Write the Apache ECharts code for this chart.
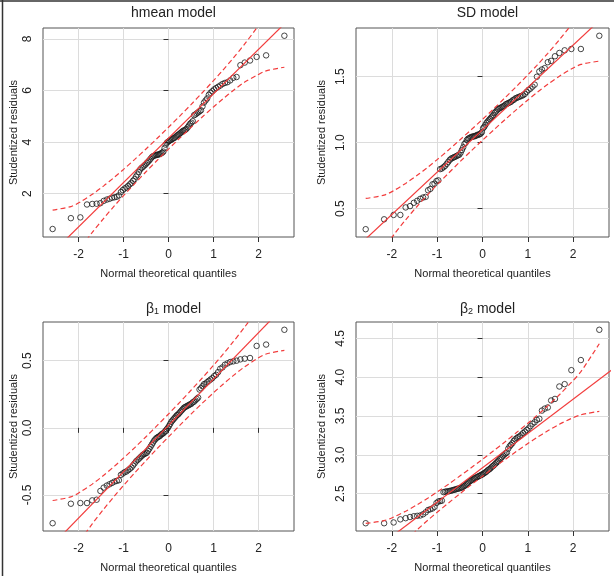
<!DOCTYPE html>
<html>
<head>
<meta charset="utf-8">
<script src="https://cdn.jsdelivr.net/npm/echarts@6/dist/echarts.min.js"></script>
<style>
  html, body { margin: 0; padding: 0; background: #fff; }
  #chart { width: 614px; height: 576px; }
</style>
</head>
<body>
<div id="chart"></div>
<script>
// normal theoretical quantiles (x of every point, shared by the 4 panels)
const quantiles = [
  -2.576, -2.170, -1.960, -1.812, -1.695, -1.598, -1.514, -1.440, -1.372, -1.311,
  -1.254, -1.200, -1.150, -1.103, -1.058, -1.015, -0.974, -0.935, -0.896, -0.860,
  -0.824, -0.789, -0.755, -0.722, -0.690, -0.659, -0.628, -0.598, -0.568, -0.539,
  -0.510, -0.482, -0.454, -0.426, -0.399, -0.372, -0.345, -0.319, -0.292, -0.266,
  -0.240, -0.215, -0.189, -0.164, -0.138, -0.113, -0.088, -0.063, -0.038, -0.013,
  0.013, 0.038, 0.063, 0.088, 0.113, 0.138, 0.164, 0.189, 0.215, 0.240,
  0.266, 0.292, 0.319, 0.345, 0.372, 0.399, 0.426, 0.454, 0.482, 0.510,
  0.539, 0.568, 0.598, 0.628, 0.659, 0.690, 0.722, 0.755, 0.789, 0.824,
  0.860, 0.896, 0.935, 0.974, 1.015, 1.058, 1.103, 1.150, 1.200, 1.254,
  1.311, 1.372, 1.440, 1.514, 1.598, 1.695, 1.812, 1.960, 2.170, 2.576
];

// studentized residuals, sorted
const hmeanRes = [
  0.63, 1.05, 1.08, 1.58, 1.60, 1.61, 1.63, 1.72, 1.77, 1.80,
  1.84, 1.86, 1.88, 1.93, 2.06, 2.14, 2.20, 2.24, 2.30, 2.36,
  2.42, 2.50, 2.56, 2.66, 2.74, 2.84, 2.94, 3.00, 3.04, 3.09,
  3.13, 3.19, 3.24, 3.29, 3.35, 3.41, 3.45, 3.47, 3.49, 3.50,
  3.51, 3.52, 3.54, 3.56, 3.59, 3.63, 3.76, 3.90, 3.97, 4.01,
  4.04, 4.07, 4.09, 4.12, 4.15, 4.17, 4.21, 4.25, 4.28, 4.31,
  4.35, 4.39, 4.43, 4.45, 4.47, 4.51, 4.57, 4.64, 4.71, 4.75,
  4.81, 5.04, 5.07, 5.11, 5.15, 5.19, 5.23, 5.38, 5.53, 5.61,
  5.69, 5.83, 5.91, 5.97, 6.04, 6.09, 6.14, 6.19, 6.25, 6.29,
  6.32, 6.39, 6.49, 6.52, 6.98, 7.08, 7.16, 7.30, 7.36, 8.12
];
const sdRes = [
  0.345, 0.42, 0.453, 0.453, 0.51, 0.52, 0.545, 0.56, 0.575, 0.585,
  0.59, 0.64, 0.65, 0.685, 0.69, 0.71, 0.715, 0.80, 0.805, 0.815,
  0.825, 0.84, 0.855, 0.87, 0.88, 0.885, 0.89, 0.895, 0.90, 0.905,
  0.91, 0.925, 0.945, 0.965, 0.99, 1.00, 1.02, 1.03, 1.035, 1.04,
  1.045, 1.045, 1.05, 1.05, 1.055, 1.06, 1.06, 1.065, 1.07, 1.08,
  1.11, 1.12, 1.135, 1.15, 1.16, 1.17, 1.18, 1.19, 1.20, 1.21,
  1.225, 1.235, 1.245, 1.255, 1.26, 1.265, 1.27, 1.275, 1.28, 1.29,
  1.295, 1.30, 1.305, 1.31, 1.32, 1.325, 1.335, 1.34, 1.345, 1.35,
  1.355, 1.36, 1.37, 1.385, 1.40, 1.41, 1.425, 1.44, 1.50, 1.54,
  1.555, 1.565, 1.61, 1.62, 1.655, 1.68, 1.70, 1.71, 1.71, 1.81
];
const beta1Res = [
  -0.71, -0.565, -0.56, -0.56, -0.54, -0.535, -0.47, -0.445, -0.43, -0.42,
  -0.41, -0.40, -0.395, -0.39, -0.35, -0.34, -0.33, -0.325, -0.315, -0.305,
  -0.295, -0.28, -0.265, -0.25, -0.24, -0.23, -0.22, -0.21, -0.20, -0.195,
  -0.19, -0.185, -0.17, -0.155, -0.14, -0.125, -0.11, -0.095, -0.085, -0.075,
  -0.07, -0.065, -0.06, -0.05, -0.045, -0.04, -0.03, -0.025, -0.01, 0.0,
  0.015, 0.03, 0.045, 0.055, 0.065, 0.075, 0.085, 0.095, 0.10, 0.11,
  0.12, 0.13, 0.14, 0.15, 0.155, 0.16, 0.165, 0.17, 0.175, 0.18,
  0.19, 0.195, 0.205, 0.215, 0.225, 0.285, 0.295, 0.31, 0.325, 0.33,
  0.34, 0.35, 0.36, 0.37, 0.385, 0.395, 0.415, 0.44, 0.45, 0.47,
  0.48, 0.49, 0.495, 0.50, 0.51, 0.515, 0.52, 0.61, 0.62, 0.73
];
const beta2Res = [
  2.12, 2.12, 2.13, 2.17, 2.185, 2.20, 2.21, 2.215, 2.22, 2.235,
  2.26, 2.29, 2.30, 2.31, 2.33, 2.38, 2.40, 2.405, 2.41, 2.52,
  2.525, 2.53, 2.53, 2.535, 2.54, 2.545, 2.55, 2.555, 2.56, 2.565,
  2.57, 2.575, 2.58, 2.59, 2.60, 2.61, 2.625, 2.64, 2.655, 2.665,
  2.675, 2.685, 2.695, 2.70, 2.71, 2.715, 2.725, 2.73, 2.74, 2.745,
  2.755, 2.765, 2.775, 2.785, 2.80, 2.81, 2.82, 2.835, 2.85, 2.86,
  2.875, 2.89, 2.905, 2.92, 2.94, 2.955, 2.97, 2.99, 3.005, 3.02,
  3.03, 3.08, 3.11, 3.13, 3.15, 3.18, 3.20, 3.215, 3.23, 3.24,
  3.26, 3.28, 3.30, 3.32, 3.34, 3.37, 3.40, 3.42, 3.45, 3.465,
  3.57, 3.595, 3.61, 3.70, 3.72, 3.88, 3.91, 4.09, 4.22, 4.61
];

// confidence envelope (dashed), read at these quantiles
const envX = [-2.576, -2.17, -1.96, -1.695, -1.44, -1.2, -1.0, -0.75, -0.5, -0.25, 0,
  0.25, 0.5, 0.75, 1.0, 1.2, 1.44, 1.695, 1.96, 2.17, 2.576];
const hmeanUpper = [1.363, 1.50, 1.68, 1.973, 2.301, 2.64, 2.939, 3.33, 3.732, 4.147, 4.573,
  5.007, 5.452, 5.91, 6.379, 6.768, 7.255, 7.803, 8.422, 8.964, 10.225];
const hmeanLower = [-1.925, -0.664, -0.122, 0.497, 1.045, 1.532, 1.921, 2.39, 2.848, 3.293, 3.727,
  4.153, 4.568, 4.97, 5.361, 5.66, 5.999, 6.327, 6.58, 6.76, 6.90];
const sdUpper = [0.578, 0.603, 0.637, 0.692, 0.753, 0.816, 0.872, 0.945, 1.021, 1.098, 1.177,
  1.258, 1.342, 1.427, 1.514, 1.586, 1.677, 1.780, 1.895, 1.997, 2.232];
const sdLower = [-0.036, 0.199, 0.301, 0.416, 0.519, 0.610, 0.682, 0.769, 0.855, 0.938, 1.019,
  1.098, 1.176, 1.251, 1.324, 1.380, 1.443, 1.504, 1.559, 1.593, 1.618];
const beta1Upper = [-0.541, -0.514, -0.477, -0.419, -0.353, -0.285, -0.225, -0.147, -0.066, 0.018, 0.103,
  0.190, 0.280, 0.371, 0.465, 0.543, 0.641, 0.751, 0.875, 0.984, 1.237];
const beta1Lower = [-1.201, -0.948, -0.839, -0.715, -0.605, -0.507, -0.429, -0.335, -0.244, -0.154, -0.067,
  0.018, 0.102, 0.183, 0.261, 0.321, 0.389, 0.455, 0.513, 0.550, 0.577];
const beta2Upper = [2.118, 2.153, 2.200, 2.275, 2.359, 2.446, 2.523, 2.623, 2.727, 2.834, 2.943,
  3.055, 3.169, 3.287, 3.407, 3.506, 3.631, 3.773, 3.932, 4.071, 4.430];
const beta2Lower = [1.272, 1.597, 1.736, 1.895, 2.037, 2.162, 2.261, 2.381, 2.499, 2.614, 2.725,
  2.835, 2.941, 3.045, 3.145, 3.222, 3.309, 3.393, 3.468, 3.515, 3.560];

// reference line (solid), two ends
const refX = [-3, 3];
const hmeanRef = [-1.01, 9.31];
const sdRef = [0.135, 2.061];
const beta1Ref = [-1.017, 1.053];
const beta2Ref = [1.508, 4.16];

// tick labels
const xTicks = [-2, -1, 0, 1, 2];
const hmeanTicks = [2, 4, 6, 8];
const sdTicks = [0.5, 1.0, 1.5];
const beta1Ticks = [-0.5, 0.0, 0.5];
const beta2Ticks = [2.5, 3.0, 3.5, 4.0, 4.5];

const FONT = "'Liberation Sans', Arial, sans-serif";
const TEXT = '#222';
const RED = '#f23c3c';

const panels = [
  { title: 'hmean model', res: hmeanRes, up: hmeanUpper, lo: hmeanLower, ref: hmeanRef,
    ticks: hmeanTicks, yMin: 0.32, yMax: 8.42, dec: 0,
    box: { left: 43, top: 28, width: 251, height: 209 }, yGap: 24 },
  { title: 'SD model', res: sdRes, up: sdUpper, lo: sdLower, ref: sdRef,
    ticks: sdTicks, yMin: 0.286, yMax: 1.869, dec: 1,
    box: { left: 356, top: 28, width: 253, height: 209 }, yGap: 29 },
  { title: '{t|β}{s|1}{t| model}', res: beta1Res, up: beta1Upper, lo: beta1Lower, ref: beta1Ref,
    ticks: beta1Ticks, yMin: -0.768, yMax: 0.788, dec: 1,
    box: { left: 43, top: 322, width: 251, height: 209 }, yGap: 24 },
  { title: '{t|β}{s|2}{t| model}', res: beta2Res, up: beta2Upper, lo: beta2Lower, ref: beta2Ref,
    ticks: beta2Ticks, yMin: 2.02, yMax: 4.71, dec: 1,
    box: { left: 356, top: 322, width: 253, height: 209 }, yGap: 29 },
];

const chart = echarts.init(document.getElementById('chart'), null, { renderer: 'canvas' });

const title = [], grid = [], xAxis = [], yAxis = [], series = [];

panels.forEach((p, i) => {
  title.push({
    text: p.title,
    left: p.box.left + p.box.width / 2,
    top: p.box.top - 27,
    textAlign: 'center',
    textStyle: {
      fontFamily: FONT, fontSize: 14, fontWeight: 'normal', color: TEXT,
      rich: {
        t: { fontFamily: FONT, fontSize: 14, color: TEXT, lineHeight: 18 },
        s: { fontFamily: FONT, fontSize: 9, color: TEXT, lineHeight: 12, padding: [6, 0, 0, 0] },
      },
    },
  });
  grid.push({ ...p.box, show: true, borderColor: '#555', borderWidth: 1, backgroundColor: 'transparent' });

  xAxis.push({
    type: 'value', gridIndex: i, min: -2.79, max: 2.79,
    name: 'Normal theoretical quantiles', nameLocation: 'middle', nameGap: 31,
    nameTextStyle: { fontFamily: FONT, fontSize: 11, color: TEXT },
    axisLine: { show: false },
    axisTick: { show: true, length: 5, inside: false, customValues: xTicks, lineStyle: { color: '#333' } },
    axisLabel: { customValues: xTicks, fontFamily: FONT, fontSize: 12, color: TEXT, margin: 12,
      formatter: v => String(v) },
    splitLine: { show: true, lineStyle: { color: '#dcdcdc', width: 1 } },
  });
  yAxis.push({
    type: 'value', gridIndex: i, min: p.yMin, max: p.yMax,
    name: 'Studentized residuals', nameLocation: 'middle', nameGap: p.yGap, nameRotate: 90,
    nameTextStyle: { fontFamily: FONT, fontSize: 11, color: TEXT },
    axisLine: { show: false },
    axisTick: { show: true, length: 5, customValues: p.ticks, lineStyle: { color: '#333' } },
    axisLabel: { customValues: p.ticks, rotate: 90, fontFamily: FONT, fontSize: 12, color: TEXT, margin: 9,
      formatter: v => v.toFixed(p.dec) },
    splitLine: { show: true, lineStyle: { color: '#dcdcdc', width: 1 } },
  });

  series.push({
    type: 'scatter', xAxisIndex: i, yAxisIndex: i, symbol: 'circle', symbolSize: 5.5,
    itemStyle: { color: 'rgba(0,0,0,0)', borderColor: '#1a1a1a', borderWidth: 1 },
    data: p.res.map((y, k) => [quantiles[k], y]),
    silent: true, z: 2,
  });
  series.push({
    type: 'line', xAxisIndex: i, yAxisIndex: i, showSymbol: false, clip: true,
    lineStyle: { color: RED, width: 1.2 },
    data: refX.map((x, k) => [x, p.ref[k]]), silent: true, z: 3,
  });
  [p.up, p.lo].forEach(env => {
    series.push({
      type: 'line', xAxisIndex: i, yAxisIndex: i, showSymbol: false, clip: true, smooth: 0.3,
      lineStyle: { color: RED, width: 1.2, type: [5, 3] },
      data: envX.map((x, k) => [x, env[k]]), silent: true, z: 3,
    });
  });
});

chart.setOption({
  animation: false,
  backgroundColor: '#fff',
  title, grid, xAxis, yAxis, series,
  graphic: [
    { type: 'line', shape: { x1: 0, y1: 1, x2: 614, y2: 1 }, style: { stroke: '#333', lineWidth: 1.5 } },
    { type: 'line', shape: { x1: 2.5, y1: 0, x2: 2.5, y2: 576 }, style: { stroke: '#333', lineWidth: 1.5 } },
  ],
});
</script>
</body>
</html>
